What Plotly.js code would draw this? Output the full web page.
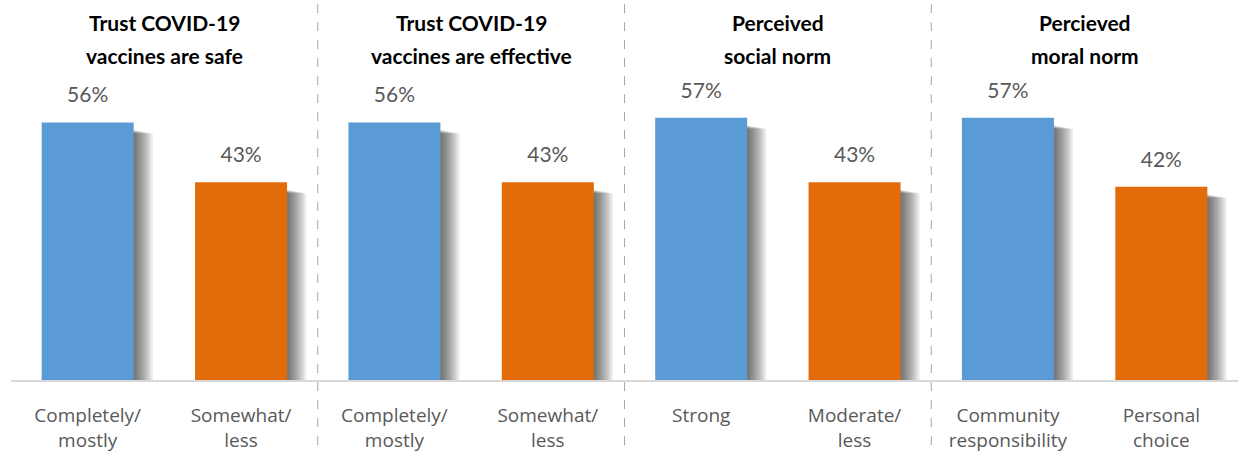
<!DOCTYPE html>
<html>
<head>
<meta charset="utf-8">
<script src="https://cdn.plot.ly/plotly-3.0.1.min.js"></script>
<style>html,body{margin:0;padding:0;background:#fff;}#chart{width:1238px;height:454px;}</style>
</head>
<body>
<div id="chart"></div>
<script>
const categories = ["Completely/<br>mostly","Somewhat/<br>less","Completely/<br>mostly","Somewhat/<br>less","Strong","Moderate/<br>less","Community<br>responsibility","Personal<br>choice"];
const values = [56, 43, 56, 43, 57, 43, 57, 42];
const titleLine1 = ["Trust COVID-19","Trust COVID-19","Perceived","Percieved"];
const titleLine2 = ["vaccines are safe","vaccines are effective","social norm","moral norm"];
const barColors = ["#5B9BD5","#E36C0A","#5B9BD5","#E36C0A","#5B9BD5","#E36C0A","#5B9BD5","#E36C0A"];

const xs = categories.map((c,i)=>i);
const traces = [];
// soft drop shadows
for (let k = 1; k <= 10; k++) {
  traces.push({
    type:'bar', x: xs, y: values.map(v => v - 1.0 - k*0.08), base: -0.6,
    width: 0.6, offset: -0.3 + k*0.0125,
    marker:{color:'rgba(0,0,0,0.07)', line:{width:0}},
    hoverinfo:'skip', showlegend:false
  });
}
traces.push({
  type:'bar', x: xs, y: values, width:0.6, offset:-0.3,
  marker:{color: barColors, line:{width:0}}, showlegend:false
});
traces.push({
  type:'scatter', mode:'text', x: xs, y: values.map(v => v + 5.5),
  text: values.map(v => v + '%'), textposition:'middle center',
  textfont:{family:'Lato, "Open Sans", sans-serif', size:21, color:'#595959'},
  showlegend:false, hoverinfo:'skip', cliponaxis:false
});

const shapes = [1.5, 3.5, 5.5].map(p => ({
  type:'line', xref:'x', yref:'paper', x0:p, x1:p, y0:-0.177, y1:1.04,
  line:{color:'#A6A6A6', width:1, dash:'dash'}
}));
const titleFont = {family:'Lato, "Open Sans", sans-serif', size:21, color:'#000', weight:'bold'};
const annotations = [];
titleLine1.forEach((t,g) => annotations.push({
  text: t, xref:'x', yref:'paper', x: 2*g + 0.5, y: (380-22)/368,
  xanchor:'center', yanchor:'middle', showarrow:false, font:titleFont
}));
titleLine2.forEach((t,g) => annotations.push({
  text: t, xref:'x', yref:'paper', x: 2*g + 0.5, y: (380-55)/368,
  xanchor:'center', yanchor:'middle', showarrow:false, font:titleFont
}));

const layout = {
  width:1238, height:454,
  margin:{l:11, r:0, t:12, b:74},
  paper_bgcolor:'#fff', plot_bgcolor:'#fff',
  barmode:'overlay',
  xaxis:{type:'linear', range:[-0.5, 7.5], tickvals: xs, ticktext: categories,
    showgrid:false, zeroline:false, showline:true, linecolor:'#D9D9D9', linewidth:1.5,
    ticks:'', ticklabelstandoff:18,
    tickfont:{family:'"Open Sans", Lato, sans-serif', size:19, color:'#595959'}},
  yaxis:{range:[0,80], visible:false, showgrid:false, zeroline:false, fixedrange:true},
  shapes: shapes, annotations: annotations, showlegend:false
};
Plotly.newPlot('chart', traces, layout, {displayModeBar:false, staticPlot:true});
</script>
</body>
</html>
